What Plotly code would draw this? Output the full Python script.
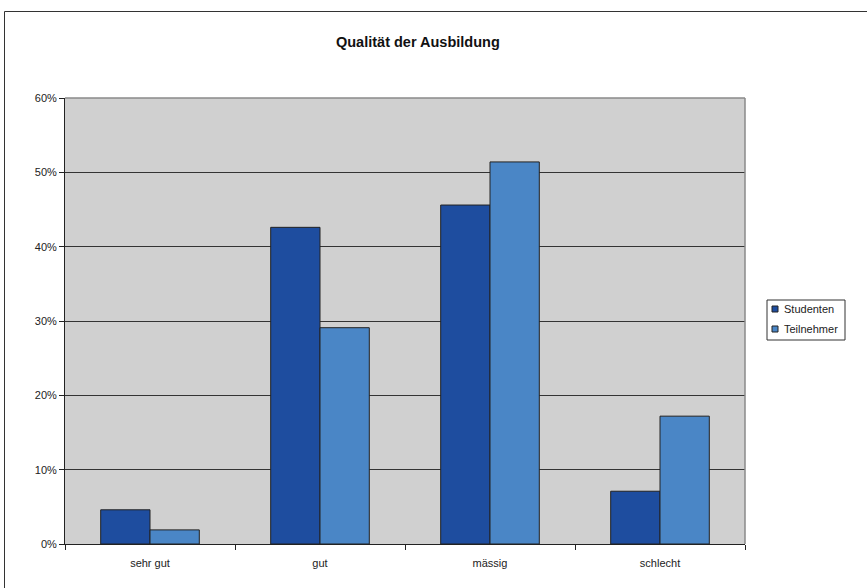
import plotly.graph_objects as go

categories = ["sehr gut", "gut", "mässig", "schlecht"]
studenten = [0.046, 0.426, 0.456, 0.071]
teilnehmer = [0.019, 0.291, 0.514, 0.172]
y_ticks = [0, 0.1, 0.2, 0.3, 0.4, 0.5, 0.6]
y_labels = ["0%", "10%", "20%", "30%", "40%", "50%", "60%"]
series_names = ["Studenten", "Teilnehmer"]
series_colors = ["#1e4d9f", "#4a86c6"]

FONT = "Liberation Sans, Arial, sans-serif"

# plot area in pixels: left 65, right 745, top 98, bottom 544
L, R, T, B = 65, 745, 98, 544


def px(x):
    return (x - L) / (R - L)


def py(y):
    return (B - y) / (B - T)


fig = go.Figure()
for name, vals, col in zip(series_names, [studenten, teilnehmer], series_colors):
    fig.add_trace(go.Bar(
        name=name, x=categories, y=vals, showlegend=False,
        marker=dict(color=col, line=dict(color="#222222", width=1)),
    ))

shapes = [
    # top and right edges of the plot area in gray
    dict(type="line", xref="paper", yref="paper", x0=0, x1=1, y0=1, y1=1,
         line=dict(color="#8a8a8a", width=1.5), layer="above"),
    dict(type="line", xref="paper", yref="paper", x0=1, x1=1, y0=0, y1=1,
         line=dict(color="#8a8a8a", width=1.5), layer="above"),
    # outer frame of the chart
    dict(type="rect", xref="paper", yref="paper",
         x0=px(4.5), x1=px(880), y0=py(600), y1=py(11.5),
         line=dict(color="#333333", width=1), layer="below"),
    # legend box
    dict(type="rect", xref="paper", yref="paper",
         x0=px(767), x1=px(845), y0=py(340), y1=py(300),
         line=dict(color="#333333", width=1), fillcolor="white"),
]
annotations = []
for i, (name, col) in enumerate(zip(series_names, series_colors)):
    cy = 309 + 20 * i
    shapes.append(dict(type="rect", xref="paper", yref="paper",
                       x0=px(772), x1=px(778), y0=py(cy + 3), y1=py(cy - 3),
                       fillcolor=col, line=dict(color="#222222", width=1)))
    annotations.append(dict(xref="paper", yref="paper", x=px(782), y=py(cy),
                            xanchor="left", yanchor="middle", showarrow=False,
                            text=name, font=dict(family=FONT, size=11, color="#222222")))

fig.update_layout(
    width=867, height=588,
    margin=dict(l=L, r=867 - R, t=T, b=588 - B, autoexpand=False),
    paper_bgcolor="white",
    plot_bgcolor="#d0d0d0",
    barmode="group",
    bargap=0.42,
    bargroupgap=0,
    font=dict(family=FONT, size=11, color="#222222"),
    title=dict(
        text="<b>Qualität der Ausbildung</b>",
        font=dict(family=FONT, size=14.5, color="#111111"),
        x=0.482, xanchor="center", y=0.928, yanchor="middle",
    ),
    xaxis=dict(
        type="category",
        tickson="boundaries",
        ticks="outside", ticklen=5, tickcolor="#222222",
        ticklabelstandoff=9,
        showline=True, linecolor="#222222", linewidth=1,
        showgrid=False,
        tickfont=dict(family=FONT, size=11, color="#222222"),
    ),
    yaxis=dict(
        range=[0, 0.6],
        tickvals=y_ticks, ticktext=y_labels,
        ticks="outside", ticklen=5, tickcolor="#222222",
        showline=True, linecolor="#222222", linewidth=1,
        showgrid=True, gridcolor="#333333", gridwidth=1,
        zeroline=False,
        tickfont=dict(family=FONT, size=11, color="#222222"),
    ),
    shapes=shapes,
    annotations=annotations,
)

fig.write_html("out.html")
